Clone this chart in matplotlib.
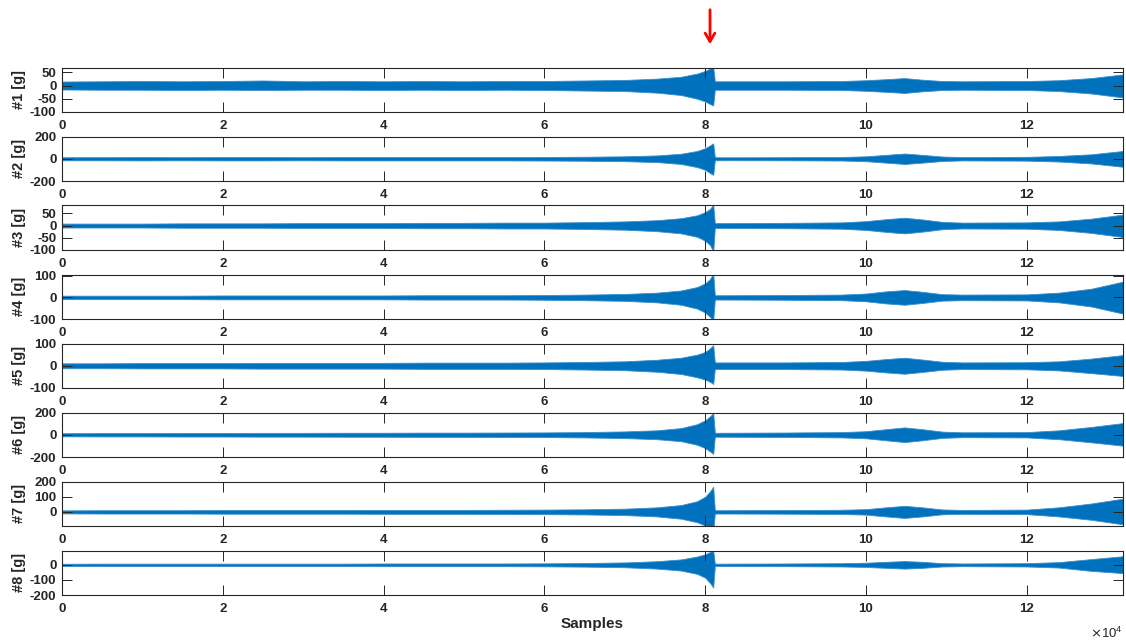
import numpy as np
import matplotlib
matplotlib.use("Agg")
import matplotlib.pyplot as plt

plt.rcParams['font.family'] = ['Liberation Sans', 'DejaVu Sans']
plt.rcParams['axes.unicode_minus'] = False

env_x = [0, 5000, 10000, 15000, 20000, 25000, 30000, 35000, 40000, 45000,
         50000, 55000, 60000, 65000, 70000, 74000, 77000, 79000, 80000, 80600,
         81000, 81200, 82500, 90000, 97000, 100000, 102500, 104800, 107000, 109500,
         112000, 120000, 124000, 128000, 131970]

up_1 = [15, 16, 17, 16, 17, 19, 16, 17, 16, 17, 16, 17, 17, 19, 21, 26, 33, 45, 55, 64, 70,
        16, 16, 16, 17, 20, 24, 28, 22, 17, 16, 17, 20, 28, 42]
lo_1 = [-15, -16, -16, -17, -16, -17, -16, -16, -17, -16, -17, -16, -17, -19, -21, -27, -36, -50, -60, -70, -75,
        -16, -16, -16, -17, -20, -24, -28, -22, -17, -16, -17, -21, -30, -45]

up_2 = [14, 14, 15, 14, 15, 15, 14, 15, 15, 15, 15, 15, 16, 18, 22, 30, 45, 70, 95, 120, 138,
        14, 13, 14, 16, 22, 35, 47, 35, 20, 15, 17, 25, 40, 70]
lo_2 = [-14, -14, -15, -14, -15, -15, -14, -15, -15, -15, -15, -15, -16, -18, -22, -30, -47, -75, -100, -128, -145,
        -14, -13, -14, -16, -22, -35, -47, -35, -20, -15, -17, -25, -42, -72]

up_3 = [8, 8, 8, 9, 9, 9, 10, 10, 10, 11, 11, 12, 12, 14, 17, 22, 30, 42, 55, 68, 85,
        10, 10, 11, 13, 18, 26, 32, 25, 15, 12, 13, 17, 28, 45]
lo_3 = [-8, -8, -8, -9, -9, -9, -10, -10, -10, -11, -11, -12, -12, -14, -17, -23, -32, -46, -62, -80, -105,
        -10, -10, -11, -13, -18, -26, -32, -25, -15, -12, -13, -18, -30, -47]

up_4 = [8, 8, 8, 8, 9, 9, 9, 9, 9, 10, 10, 10, 11, 13, 16, 22, 32, 48, 65, 85, 110,
        10, 10, 11, 13, 18, 28, 34, 26, 15, 13, 14, 22, 40, 73]
lo_4 = [-8, -8, -8, -8, -9, -9, -9, -9, -9, -10, -10, -10, -11, -13, -16, -23, -34, -52, -70, -90, -105,
        -10, -10, -11, -13, -18, -28, -34, -26, -15, -13, -14, -23, -42, -75]

up_5 = [11, 11, 12, 12, 12, 13, 13, 13, 13, 14, 14, 14, 15, 17, 20, 27, 36, 50, 62, 78, 92,
        15, 15, 15, 17, 22, 30, 36, 28, 18, 15, 16, 20, 32, 48]
lo_5 = [-11, -11, -12, -12, -12, -13, -13, -13, -13, -14, -14, -14, -15, -17, -20, -27, -37, -52, -62, -72, -82,
        -15, -15, -15, -17, -22, -30, -36, -28, -18, -15, -16, -21, -33, -46]

up_6 = [14, 15, 15, 16, 16, 17, 17, 18, 18, 19, 19, 20, 21, 24, 30, 40, 60, 95, 130, 165, 195,
        18, 18, 20, 24, 32, 50, 66, 50, 28, 22, 24, 40, 70, 105]
lo_6 = [-14, -15, -15, -16, -16, -17, -17, -18, -18, -19, -19, -20, -21, -24, -30, -40, -58, -90, -120, -150, -172,
        -18, -18, -20, -24, -32, -50, -66, -50, -28, -22, -24, -40, -68, -98]

up_7 = [10, 11, 11, 11, 12, 12, 12, 12, 13, 13, 13, 14, 15, 17, 21, 30, 45, 70, 100, 135, 165,
        11, 11, 12, 14, 18, 30, 40, 30, 16, 13, 15, 30, 55, 87]
lo_7 = [-10, -11, -11, -11, -12, -12, -12, -12, -13, -13, -13, -14, -15, -17, -21, -30, -45, -68, -90, -110, -125,
        -11, -11, -12, -14, -18, -30, -40, -30, -16, -13, -15, -30, -52, -82]

up_8 = [7, 8, 8, 8, 8, 8, 8, 8, 9, 9, 9, 9, 10, 12, 16, 24, 36, 55, 70, 85, 93,
        8, 8, 9, 11, 14, 20, 25, 20, 11, 9, 11, 18, 38, 57]
lo_8 = [-7, -8, -8, -8, -8, -8, -8, -8, -9, -9, -9, -9, -10, -12, -16, -25, -38, -60, -85, -120, -150,
        -8, -8, -9, -11, -14, -20, -25, -20, -11, -9, -11, -18, -40, -55]

uppers = [up_1, up_2, up_3, up_4, up_5, up_6, up_7, up_8]
lowers = [lo_1, lo_2, lo_3, lo_4, lo_5, lo_6, lo_7, lo_8]

ylims = [(-100, 68), (-200, 200), (-100, 82), (-100, 106),
         (-100, 100), (-200, 200), (-93, 200), (-200, 95)]
yticks = [[-100, -50, 0, 50], [-200, 0, 200], [-100, -50, 0, 50], [-100, 0, 100],
          [-100, 0, 100], [-200, 0, 200], [0, 100, 200], [-200, -100, 0]]
ylabels = ['#1 [g]', '#2 [g]', '#3 [g]', '#4 [g]', '#5 [g]', '#6 [g]', '#7 [g]', '#8 [g]']
xtick_vals = [0, 2, 4, 6, 8, 10, 12]
n_samples = 131970
event_sample = 80600

W, H = 1126, 642
fig = plt.figure(figsize=(W / 100, H / 100), dpi=100)

blue = '#0072BD'
dark = '#262626'
left, width = 62, 1061
ax_h = 44.5
axes = []
for i in range(8):
    top = 67.5 + 69 * i
    ax = fig.add_axes([left / W, 1 - (top + ax_h) / H, width / W, ax_h / H])
    ax.fill_between(env_x, lowers[i], uppers[i], color=blue, linewidth=0.6,
                    edgecolor='#3a8fcc')
    ax.set_xlim(0, n_samples)
    ax.set_ylim(*ylims[i])
    ax.set_yticks(yticks[i])
    ax.set_xticks([v * 1e4 for v in xtick_vals])
    ax.set_xticklabels([str(v) for v in xtick_vals])
    ax.tick_params(direction='in', top=True, right=True, length=7, width=0.7,
                   colors=dark, labelsize=9.5)
    ax.tick_params(axis='x', pad=6)
    ax.tick_params(axis='y', pad=4)
    for lbl in ax.get_xticklabels() + ax.get_yticklabels():
        lbl.set_fontweight('bold')
    for s in ax.spines.values():
        s.set_color(dark)
        s.set_linewidth(0.8)
    ax.set_ylabel(ylabels[i], fontsize=10.5, fontweight='bold', color=dark)
    ax.yaxis.set_label_coords(-36 / width, 0.5)
    axes.append(ax)

axes[-1].set_xlabel('Samples', fontsize=11, fontweight='bold', color=dark, labelpad=1)
fig.text(1123 / W, 1 - 633 / H, r'$\times\mathregular{10^{4}}$', ha='right', va='center',
         fontsize=9.5, color=dark)

# red arrow pointing at the event
axes[0].annotate('', xy=(event_sample, 1 - 47 / H), xytext=(event_sample, 1 - 7 / H),
                 xycoords=('data', 'figure fraction'), textcoords=('data', 'figure fraction'),
                 arrowprops=dict(arrowstyle='->,head_length=0.6,head_width=0.35', color='red', lw=2),
                 annotation_clip=False)

fig.savefig('out.png', dpi=100)
